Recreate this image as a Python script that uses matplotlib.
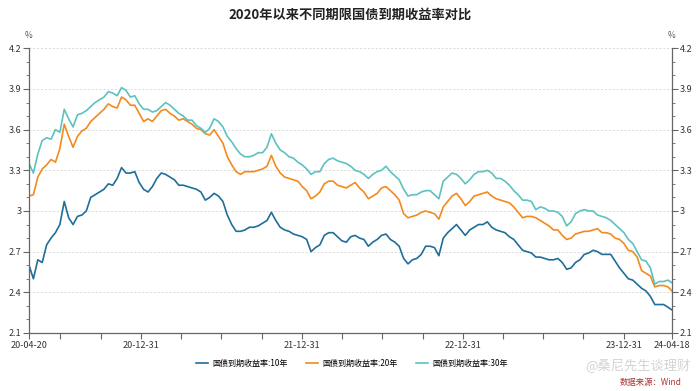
import matplotlib
matplotlib.use("Agg")
import matplotlib.pyplot as plt
from matplotlib.ticker import MultipleLocator, FormatStrFormatter
import pandas as pd

plt.rcParams['font.family'] = ['Noto Sans CJK SC', 'DejaVu Sans']

title = "2020年以来不同期限国债到期收益率对比"
series_names = ["国债到期收益率:10年", "国债到期收益率:20年", "国债到期收益率:30年"]
colors = ["#1f6e9a", "#f38a1d", "#5cc2c0"]

# sample dates: every 10 days from 2020-04-20, plus last date
dates = list(pd.date_range("2020-04-20", periods=146, freq="10D")) + [pd.Timestamp("2024-04-18")]

y10 = [2.60, 2.50, 2.64, 2.62, 2.75, 2.80, 2.84, 2.90, 3.07, 2.95,
       2.90, 2.96, 2.97, 3.00, 3.10, 3.12, 3.14, 3.16, 3.20, 3.19,
       3.24, 3.32, 3.28, 3.28, 3.29, 3.21, 3.16, 3.14, 3.18, 3.24,
       3.28, 3.27, 3.25, 3.23, 3.19, 3.19, 3.18, 3.17, 3.16, 3.14,
       3.08, 3.10, 3.13, 3.11, 3.07, 2.97, 2.90, 2.85, 2.85, 2.86,
       2.88, 2.88, 2.89, 2.91, 2.93, 2.99, 2.93, 2.88, 2.86, 2.85,
       2.83, 2.82, 2.81, 2.79, 2.70, 2.73, 2.75, 2.82, 2.84, 2.84,
       2.81, 2.78, 2.77, 2.81, 2.82, 2.80, 2.79, 2.74, 2.77, 2.79,
       2.82, 2.83, 2.79, 2.77, 2.74, 2.65, 2.61, 2.64, 2.65, 2.68,
       2.74, 2.74, 2.73, 2.67, 2.80, 2.84, 2.87, 2.90, 2.86, 2.82,
       2.86, 2.88, 2.90, 2.90, 2.92, 2.88, 2.86, 2.85, 2.84, 2.81,
       2.79, 2.75, 2.71, 2.70, 2.69, 2.66, 2.66, 2.65, 2.64, 2.64,
       2.65, 2.62, 2.57, 2.58, 2.62, 2.64, 2.68, 2.69, 2.71, 2.70,
       2.68, 2.68, 2.68, 2.63, 2.58, 2.54, 2.50, 2.49, 2.46, 2.43,
       2.41, 2.37, 2.31, 2.31, 2.31, 2.29, 2.27]

y20 = [3.11, 3.12, 3.25, 3.31, 3.34, 3.38, 3.36, 3.46, 3.64, 3.55,
       3.47, 3.55, 3.59, 3.61, 3.66, 3.69, 3.72, 3.75, 3.79, 3.77,
       3.76, 3.84, 3.82, 3.78, 3.78, 3.72, 3.66, 3.68, 3.66, 3.70,
       3.74, 3.75, 3.72, 3.70, 3.67, 3.68, 3.66, 3.64, 3.61, 3.60,
       3.57, 3.56, 3.60, 3.55, 3.50, 3.40, 3.34, 3.29, 3.27, 3.29,
       3.29, 3.29, 3.30, 3.31, 3.33, 3.41, 3.33, 3.28, 3.25, 3.24,
       3.23, 3.22, 3.18, 3.15, 3.09, 3.11, 3.14, 3.20, 3.22, 3.22,
       3.19, 3.18, 3.17, 3.19, 3.21, 3.17, 3.14, 3.09, 3.11, 3.13,
       3.17, 3.18, 3.15, 3.12, 3.08, 2.98, 2.95, 2.96, 2.97, 2.99,
       3.00, 2.99, 2.98, 2.94, 3.03, 3.07, 3.11, 3.13, 3.09, 3.04,
       3.07, 3.11, 3.12, 3.13, 3.14, 3.11, 3.09, 3.08, 3.07, 3.06,
       3.03, 2.99, 2.95, 2.96, 2.96, 2.95, 2.93, 2.91, 2.89, 2.86,
       2.86, 2.82, 2.79, 2.80, 2.83, 2.84, 2.85, 2.85, 2.86, 2.87,
       2.84, 2.84, 2.83, 2.80, 2.79, 2.76, 2.71, 2.70, 2.66, 2.56,
       2.54, 2.52, 2.44, 2.45, 2.45, 2.44, 2.41]

y30 = [3.35, 3.28, 3.42, 3.52, 3.54, 3.53, 3.60, 3.58, 3.75, 3.68,
       3.62, 3.71, 3.72, 3.74, 3.77, 3.80, 3.82, 3.84, 3.88, 3.87,
       3.85, 3.91, 3.89, 3.84, 3.85, 3.79, 3.75, 3.75, 3.73, 3.74,
       3.77, 3.80, 3.78, 3.75, 3.72, 3.70, 3.67, 3.67, 3.63, 3.61,
       3.58, 3.61, 3.68, 3.66, 3.62, 3.55, 3.51, 3.46, 3.42, 3.40,
       3.40, 3.41, 3.43, 3.43, 3.47, 3.57, 3.50, 3.45, 3.43, 3.40,
       3.39, 3.36, 3.34, 3.31, 3.27, 3.29, 3.29, 3.35, 3.38, 3.39,
       3.37, 3.36, 3.35, 3.33, 3.30, 3.29, 3.27, 3.24, 3.27, 3.29,
       3.30, 3.33, 3.29, 3.26, 3.23, 3.16, 3.11, 3.12, 3.12, 3.14,
       3.15, 3.15, 3.12, 3.09, 3.22, 3.25, 3.28, 3.27, 3.24, 3.20,
       3.23, 3.27, 3.29, 3.29, 3.30, 3.28, 3.24, 3.24, 3.22, 3.19,
       3.15, 3.12, 3.08, 3.08, 3.07, 3.01, 3.03, 3.02, 3.00, 3.00,
       2.99, 2.96, 2.89, 2.92, 2.98, 3.00, 3.01, 3.00, 3.00, 2.97,
       2.96, 2.95, 2.93, 2.90, 2.87, 2.84, 2.79, 2.76, 2.70, 2.64,
       2.63, 2.58, 2.46, 2.48, 2.48, 2.49, 2.47]

x_tick_dates = ["2020-04-20", "2020-06-30", "2020-09-30", "2020-12-31", "2021-03-31",
                "2021-06-30", "2021-09-30", "2021-12-31", "2022-03-31", "2022-06-30",
                "2022-09-30", "2022-12-31", "2023-03-31", "2023-06-30", "2023-09-30",
                "2023-12-31", "2024-04-18"]
x_labeled = ["20-04-20", "20-12-31", "21-12-31", "22-12-31", "23-12-31", "24-04-18"]
y_ticks = [2.1, 2.4, 2.7, 3.0, 3.3, 3.6, 3.9, 4.2]

fig = plt.figure(figsize=(7.0, 3.91), dpi=100)
ax = fig.add_axes([29 / 700, 1 - 333 / 391, (672 - 29) / 700, (333 - 48.3) / 391])

for vals, name, c in zip([y10, y20, y30], series_names, colors):
    ax.plot(dates, vals, color=c, lw=1.2, label=name)

ax.set_xlim(pd.Timestamp("2020-04-20"), pd.Timestamp("2024-04-18"))
ax.set_ylim(2.1, 4.2)

tick_ts = [pd.Timestamp(d) for d in x_tick_dates]
ax.set_xticks(tick_ts)
lbls = []
for t in tick_ts:
    s = t.strftime("%y-%m-%d")
    lbls.append(s if s in x_labeled else "")
ax.set_xticklabels(lbls)

ax.set_yticks(y_ticks)
ax.yaxis.set_major_formatter(FormatStrFormatter('%g'))
ax.yaxis.set_minor_locator(MultipleLocator(0.1))
ax.tick_params(axis='y', which='both', left=True, right=True, labelleft=True, labelright=True,
               direction='out', labelsize=6.5, colors='#333333', pad=1.5)
ax.tick_params(axis='y', which='major', length=4, color='#666666')
ax.tick_params(axis='y', which='minor', length=2.5, color='#666666')
ax.tick_params(axis='x', direction='out', length=4, labelsize=6.5, colors='#333333',
               color='#666666', pad=1.5)

for side in ['left', 'right', 'bottom']:
    ax.spines[side].set_color('#666666')
    ax.spines[side].set_linewidth(0.9)
ax.spines['top'].set_visible(False)

ax.grid(axis='y', which='major', linestyle=(0, (2, 2)), color='#d9d9d9', lw=0.7)
ax.set_axisbelow(True)

fig.text(0.5, 1 - 15 / 391, title, ha='center', va='center', fontsize=9.5, fontweight='bold', color='#222222')
fig.text(29 / 700, 1 - 35 / 391, "%", ha='center', va='center', fontsize=6, color='#555555')
fig.text(672 / 700, 1 - 35 / 391, "%", ha='center', va='center', fontsize=6, color='#555555')

fig.legend(loc='center', bbox_to_anchor=(352 / 700, 1 - 363 / 391), ncol=3, frameon=False,
           fontsize=5.8, handlelength=1.5, columnspacing=2.3, handletextpad=0.5)

fig.text(690 / 700, 1 - 366 / 391, "@桑尼先生谈理财", ha='right', va='center', fontsize=9.5,
         color='#c8c8c8', alpha=0.8)
fig.text(682 / 700, 1 - 383 / 391, "数据来源：Wind", ha='right', va='center', fontsize=6,
         color='#b03030')

fig.savefig("out.png", dpi=100)
